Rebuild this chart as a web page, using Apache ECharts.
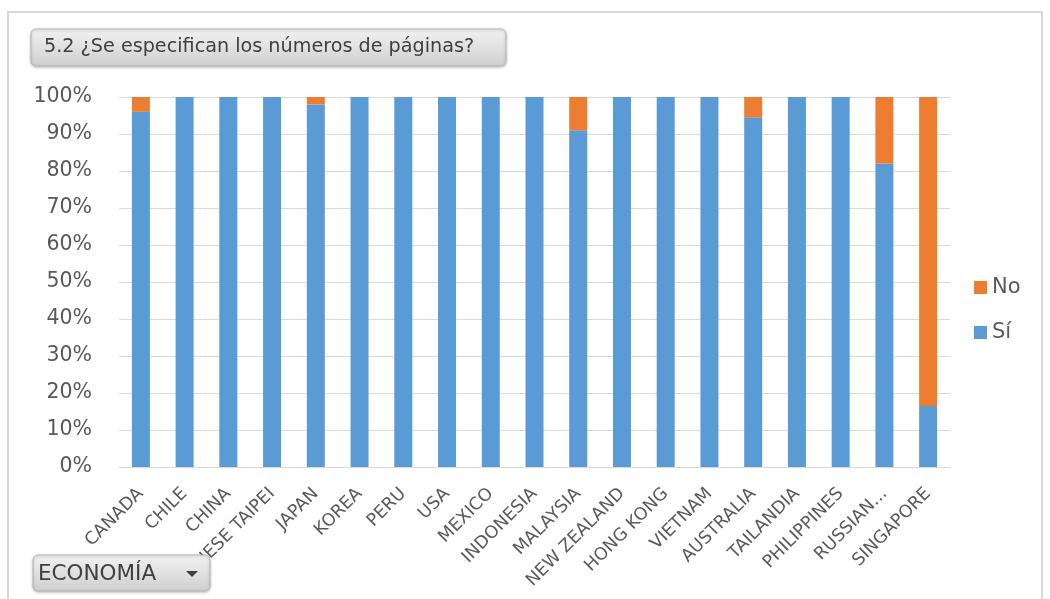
<!DOCTYPE html>
<html>
<head>
<meta charset="utf-8">
<script src="https://cdn.jsdelivr.net/npm/echarts@6/dist/echarts.min.js"></script>
<style>
  html, body { margin: 0; padding: 0; background: #fff; }
  #chart { width: 1050px; height: 599px; }
</style>
</head>
<body>
<div id="chart"></div>
<script>
// economías (eje x)
const economias = ['CANADA', 'CHILE', 'CHINA', 'CHINESE TAIPEI', 'JAPAN', 'KOREA', 'PERU', 'USA',
  'MEXICO', 'INDONESIA', 'MALAYSIA', 'NEW ZEALAND', 'HONG KONG', 'VIETNAM', 'AUSTRALIA',
  'TAILANDIA', 'PHILIPPINES', 'RUSSIAN...', 'SINGAPORE']
// porcentaje "Sí"
const valoresSi = [96, 100, 100, 100, 98, 100, 100, 100, 100, 100, 91, 100, 100, 100, 94.5, 100, 100, 82, 16.5]
// porcentaje "No"
const valoresNo = [4, 0, 0, 0, 2, 0, 0, 0, 0, 0, 9, 0, 0, 0, 5.5, 0, 0, 18, 83.5]
const ticksY = [0, 10, 20, 30, 40, 50, 60, 70, 80, 90, 100]

const chart = echarts.init(document.getElementById('chart'))
const fuente = 'DejaVu Sans'

const botonFill = new echarts.graphic.LinearGradient(0, 0, 0, 1, [
  { offset: 0, color: '#f2f2f2' },
  { offset: 1, color: '#cfcfcf' }
])

const option = {
  animation: false,
  textStyle: { fontFamily: fuente },
  grid: { left: 119, right: 100, top: 97, bottom: 132 },
  legend: {
    orient: 'vertical',
    left: 969,
    top: 272,
    itemWidth: 13,
    itemHeight: 13,
    itemGap: 24,
    icon: 'rect',
    data: ['No', 'Sí'],
    textStyle: { color: '#595959', fontSize: 21, fontFamily: fuente }
  },
  xAxis: {
    type: 'category',
    data: economias,
    axisTick: { show: false },
    axisLine: { lineStyle: { color: '#d9d9d9' } },
    axisLabel: {
      interval: 0,
      rotate: 45,
      margin: 24,
      color: '#595959',
      fontSize: 17.5,
      fontFamily: fuente
    }
  },
  yAxis: {
    type: 'value',
    min: 0,
    max: 100,
    interval: 10,
    axisLine: { show: false },
    axisTick: { show: false },
    splitLine: { lineStyle: { color: '#d9d9d9' } },
    axisLabel: {
      formatter: v => ticksY.includes(v) ? v + '%' : '',
      color: '#595959',
      fontSize: 20.5,
      margin: 27,
      fontFamily: fuente
    }
  },
  series: [
    {
      name: 'Sí',
      type: 'bar',
      stack: 'total',
      barWidth: 18,
      data: valoresSi,
      itemStyle: { color: '#5b9bd5' }
    },
    {
      name: 'No',
      type: 'bar',
      stack: 'total',
      barWidth: 18,
      data: valoresNo,
      itemStyle: { color: '#ed7d31' }
    }
  ],
  graphic: [
    // marco exterior
    {
      type: 'rect',
      z: 0,
      silent: true,
      shape: { x: 8, y: 12, width: 1034, height: 600 },
      style: { fill: 'none', stroke: '#d9d9d9', lineWidth: 2 }
    },
    // botón del título
    {
      type: 'rect',
      z: 100,
      shape: { x: 31, y: 29, width: 475, height: 37, r: 5 },
      style: {
        fill: botonFill, stroke: '#b8b8b8', lineWidth: 1,
        shadowBlur: 3, shadowColor: 'rgba(0,0,0,0.25)', shadowOffsetY: 1
      }
    },
    {
      type: 'text',
      z: 101,
      left: 44,
      top: 38,
      style: {
        text: '5.2 ¿Se especifican los números de páginas?',
        fill: '#404040',
        font: '19.2px "DejaVu Sans"'
      }
    },
    // botón de economía
    {
      type: 'rect',
      z: 100,
      shape: { x: 33, y: 555, width: 177, height: 36, r: 5 },
      style: {
        fill: botonFill, stroke: '#b8b8b8', lineWidth: 1,
        shadowBlur: 3, shadowColor: 'rgba(0,0,0,0.25)', shadowOffsetY: 1
      }
    },
    {
      type: 'text',
      z: 101,
      left: 38,
      top: 563,
      style: {
        text: 'ECONOMÍA',
        fill: '#404040',
        font: '21.5px "DejaVu Sans"'
      }
    },
    {
      type: 'polygon',
      z: 101,
      shape: { points: [[186, 571], [198, 571], [192, 577]] },
      style: { fill: '#404040' }
    }
  ]
}

chart.setOption(option)
</script>
</body>
</html>
